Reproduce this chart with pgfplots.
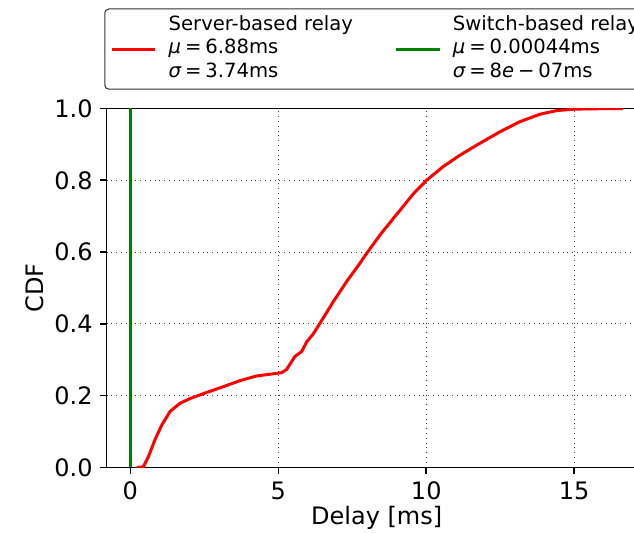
\documentclass[border=0pt]{standalone}
\usepackage{fontspec}
\setmainfont{DejaVu Sans}
\usepackage{pgfplots}
\pgfplotsset{compat=1.18}
\definecolor{mplred}{RGB}{255,0,0}
\definecolor{mplgreen}{RGB}{0,128,0}
\begin{document}
\begin{tikzpicture}
\begin{axis}[
  scale only axis, width=270pt, height=179.5pt,
  at={(0,0)}, anchor=south west,
  xmin=-0.8, xmax=17.45, ymin=0, ymax=1,
  xtick={0,5,10,15}, ytick={0,0.2,0.4,0.6,0.8,1.0},
  yticklabel style={/pgf/number format/.cd, fixed, fixed zerofill, precision=1},
  /pgf/number format/assume math mode=true,
  tick pos=left, tick align=outside, major tick length=3.5pt,
  tick style={line width=0.8pt, black},
  axis line style={line width=0.8pt},
  grid=major, major grid style={dotted, black!75, line width=0.5pt},
  font=\fontsize{12}{14.4}\selectfont,
  xlabel={Delay [ms]}, ylabel={CDF},
  xlabel style={at={(axis description cs:0.5,-0.1407)}, anchor=center},
  ylabel style={at={(axis description cs:-0.1328,0.5)}, anchor=center},
  legend columns=2,
  legend cell align=left,
  legend image code/.code={\draw[#1] (0pt,0pt) -- (21.8pt,0pt); \path[draw=none,fill=none] (0pt,-1pt) rectangle (28.4pt,1pt);},
  legend style={at={(rel axis cs:0,1)}, anchor=north west, xshift=-1.2pt, yshift=50pt,
    draw=black!80, fill=white, rounded corners=2pt, line width=0.5pt,
    inner xsep=2.8pt, inner ysep=2.5pt, column sep=0pt,
    nodes={inner sep=0pt, text height=, text depth=},
    font=\fontsize{9.8}{11.7}\selectfont},
]
\addplot[mplred, line width=1.5pt, line join=round] coordinates {
(0.22,0) (0.44,0.002) (0.61,0.03) (0.83,0.077) (1.06,0.118) (1.34,0.156)
(1.68,0.179) (2.02,0.192) (2.58,0.209) (3.14,0.225) (3.71,0.242) (4.27,0.255)
(4.83,0.261) (5.11,0.264) (5.28,0.273) (5.45,0.295) (5.56,0.309) (5.79,0.323)
(5.96,0.350) (6.18,0.372) (6.41,0.402) (6.86,0.462) (7.31,0.518) (7.76,0.569)
(7.99,0.597) (8.44,0.648) (8.89,0.694) (9.11,0.716) (9.56,0.762) (10.01,0.800)
(10.57,0.838) (11.14,0.870) (11.81,0.903) (12.49,0.935) (13.16,0.963)
(13.84,0.984) (14.4,0.994) (14.97,0.998) (15.5,0.999) (16.65,1.0)
};
\addlegendentry{\makebox[113pt][l]{\begin{tabular}{@{}l@{}}Server-based relay\\{\itshape μ}\hspace{0.2em}=\hspace{0.2em}6.88ms\\{\itshape σ}\hspace{0.2em}=\hspace{0.2em}3.74ms\end{tabular}}}
\addplot[mplgreen, line width=1.5pt] coordinates {(0.00044,0) (0.00044,1)};
\addlegendentry{\makebox[97pt][l]{\begin{tabular}{@{}l@{}}Switch-based relay\\{\itshape μ}\hspace{0.2em}=\hspace{0.2em}0.00044ms\\{\itshape σ}\hspace{0.2em}=\hspace{0.2em}8{\itshape e}\hspace{0.2em}−\hspace{0.2em}07ms\end{tabular}}}
\end{axis}
\pgfresetboundingbox
\path[use as bounding box] (-53.35pt,-32.75pt) rectangle (263.65pt,233.75pt);
\end{tikzpicture}
\end{document}
